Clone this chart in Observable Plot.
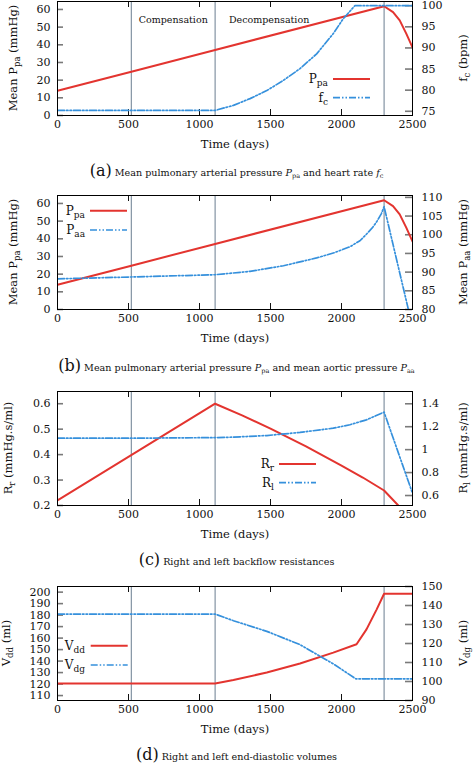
<!DOCTYPE html>
<html><head><meta charset="utf-8">
<script src="https://cdn.jsdelivr.net/npm/d3@7"></script>
<script src="https://cdn.jsdelivr.net/npm/@observablehq/plot@0.6"></script>
<style>
body{margin:0;background:#fff;}
#wrap{position:relative;width:473px;height:765px;overflow:hidden;background:#fff;}
.panel{position:absolute;left:0;}
.cap{position:absolute;left:0;width:473px;height:22px;line-height:22px;text-align:center;font-family:"DejaVu Serif",serif;font-size:9.6px;color:#111;white-space:nowrap;}
.cap .lab{font-size:16px;}
.cap sub{font-size:6.5px;vertical-align:-2px;}
</style></head><body><div id="wrap"></div>
<script>
// ---------- data ----------
const xTicks = [0, 500, 1000, 1500, 2000, 2500];
const phaseDays = [520, 1110, 2300];
const phaseNames = ["Compensation", "Decompensation"];
const phaseNameDays = [815, 1490];

// mean pulmonary arterial pressure (mmHg)
const pPaDays   = [0, 520, 1110, 2300, 2363, 2410, 2457, 2500];
const pPaValues = [14, 24.8, 37.1, 61.8, 58.5, 53.8, 46.2, 38.5];
// heart rate (bpm)
const fcDays   = [0, 1110, 1239, 1356, 1474, 1590, 1708, 1825, 1942, 2012, 2094, 2500];
const fcValues = [75.2, 75.2, 76.4, 78.0, 79.9, 82.3, 85.1, 88.6, 93.4, 96.9, 100, 100];
// mean aortic pressure (mmHg)
const pAaDays   = [0, 520, 1110, 1356, 1591, 1825, 1950, 2060, 2130, 2177, 2220, 2248, 2280, 2300, 2471];
const pAaValues = [88.2, 88.7, 89.3, 90.2, 91.7, 93.8, 95.2, 96.8, 98.4, 100.2, 102, 103.5, 105.6, 107.5, 80];
// right backflow resistance
const rrDays   = [0, 1110, 1300, 1500, 1750, 2000, 2150, 2300, 2400];
const rrValues = [0.22, 0.6, 0.554, 0.502, 0.432, 0.357, 0.31, 0.259, 0.2];
// left backflow resistance
const rlDays   = [0, 520, 1110, 1240, 1474, 1708, 1942, 2059, 2176, 2300, 2500];
const rlValues = [1.1, 1.1, 1.105, 1.109, 1.123, 1.15, 1.187, 1.217, 1.26, 1.327, 0.62];
// right end-diastolic volume (ml)
const vddDays   = [0, 1110, 1239, 1474, 1708, 1942, 2106, 2176, 2247, 2300, 2500];
const vddValues = [120.5, 120.5, 123.5, 130.1, 137.9, 147.4, 154.6, 167.6, 184.8, 198.6, 198.6];
// left end-diastolic volume (ml)
const vdgDays   = [0, 1110, 1239, 1474, 1708, 1942, 2101, 2500];
const vdgValues = [135.5, 135.5, 132, 126.4, 119.4, 109.3, 101.4, 101.4];

// tick labels
const ticksPpa = [0, 10, 20, 30, 40, 50, 60];
const ticksFc = [75, 80, 85, 90, 95, 100];
const ticksPaa = [80, 85, 90, 95, 100, 105, 110];
const ticksRr = [0.2, 0.3, 0.4, 0.5, 0.6];
const ticksRl = [0.6, 0.8, 1, 1.2, 1.4];
const ticksVdd = [110, 120, 130, 140, 150, 160, 170, 180, 190, 200];
const ticksVdg = [90, 100, 110, 120, 130, 140, 150];

// ---------- layout / style ----------
const FONT = "DejaVu Serif, serif";
const RED = "#e3342f", BLUE = "#3590dc";
const DASH = "7,2,1.5,2,1.5,2";
const W = 473, H = 155, ML = 57, MR = 61, MT = 1, MB = 40;
const FW = W - ML - MR, FH = H - MT - MB;

function rich(sel, parts, subSize, shift) {
  let down = false;
  parts.forEach(([s, sub]) => {
    const t = sel.append("tspan").text(s);
    if (sub) { t.attr("font-size", subSize); if (!down) { t.attr("dy", shift); down = true; } }
    else if (down) { t.attr("dy", -shift); down = false; }
  });
}

function panel(cfg) {
  const toLeft = d3.scaleLinear().domain(cfg.rightDomain).range(cfg.leftDomain);
  const rightPos = cfg.rightTicks.map(toLeft);
  const fmt = v => String(+(+v).toFixed(3));
  const marks = [
    Plot.ruleX(phaseDays, {stroke: "#8393a3", strokeWidth: 1.2}),
    Plot.tickY(cfg.leftTicks, {stroke: "#7a7a7a", strokeWidth: 1.6, insetRight: FW - 6}),
    Plot.tickY(rightPos, {stroke: "#7a7a7a", strokeWidth: 1.6, insetLeft: FW - 7}),
    Plot.tickX(xTicks, {stroke: "#111", insetBottom: FH - 6}),
    Plot.tickX(xTicks, {stroke: "#111", insetTop: FH - 6}),
    Plot.axisX(xTicks, {tickSize: 0, tickPadding: 5, label: null, tickFormat: d => String(d), fontSize: 11}),
    Plot.axisY(cfg.leftTicks, {tickSize: 0, tickPadding: 7, label: null, tickFormat: fmt, fontSize: 11}),
    Plot.axisY(rightPos, {anchor: "right", tickSize: 0, tickPadding: 9, label: null, tickFormat: d => fmt(toLeft.invert(d)), fontSize: 11}),
    Plot.line(cfg.redValues, {x: cfg.redDays, y: cfg.redValues, stroke: RED, strokeWidth: 2, clip: true}),
    Plot.line(cfg.blueValues, {x: cfg.blueDays, y: cfg.blueValues.map(toLeft), stroke: BLUE, strokeWidth: 1.7, strokeDasharray: DASH, clip: true}),
    Plot.frame({stroke: "#000", strokeWidth: 1}),
    Plot.text(["Time (days)"], {frameAnchor: "bottom", dy: 29, lineAnchor: "middle", fontSize: 11.5}),
    ...(cfg.extra || [])
  ];
  const plot = Plot.plot({
    width: W, height: H, marginLeft: ML, marginRight: MR, marginTop: MT, marginBottom: MB,
    style: {fontFamily: FONT, fontSize: "11px", color: "#111", background: "white", overflow: "visible"},
    x: {domain: [0, 2500]},
    y: {domain: cfg.leftDomain},
    marks
  });
  const svg = d3.select(plot);
  const g = svg.append("g").attr("font-family", FONT).attr("fill", "#111").style("white-space", "pre");
  const yc = MT + FH / 2;
  const tl = g.append("text").attr("transform", `translate(${cfg.leftLabelX},${yc}) rotate(-90)`)
    .attr("text-anchor", "middle").attr("font-size", 11.5);
  rich(tl, cfg.leftLabel, 8.5, 3);
  const tr = g.append("text").attr("transform", `translate(${cfg.rightLabelX},${yc}) rotate(-90)`)
    .attr("text-anchor", "middle").attr("font-size", 11.5);
  rich(tr, cfg.rightLabel, 8.5, 3);
  const colors = [RED, BLUE];
  cfg.legend.forEach((item, i) => {
    const ly = cfg.legendY[i];
    const ln = g.append("line").attr("x1", cfg.legendX[0]).attr("x2", cfg.legendX[1])
      .attr("y1", ly).attr("y2", ly).attr("stroke", colors[i]).attr("stroke-width", i ? 1.7 : 2);
    if (i) ln.attr("stroke-dasharray", DASH);
    const t = g.append("text").attr("x", cfg.legendTextX).attr("y", ly + 4)
      .attr("text-anchor", "end").attr("font-size", 12);
    rich(t, item, 9, 3);
  });
  const div = document.createElement("div");
  div.className = "panel";
  div.style.top = cfg.top + "px";
  div.appendChild(plot);
  document.getElementById("wrap").appendChild(div);
  const cap = document.createElement("div");
  cap.className = "cap";
  cap.style.top = (cfg.top + cfg.capOffset) + "px";
  cap.innerHTML = cfg.caption;
  document.getElementById("wrap").appendChild(cap);
}

panel({
  top: 0, capOffset: 160,
  leftDomain: [0, 64.5], rightDomain: [74, 101],
  leftTicks: ticksPpa, rightTicks: ticksFc,
  redDays: pPaDays, redValues: pPaValues, blueDays: fcDays, blueValues: fcValues,
  leftLabel: [["Mean P"], ["pa", 1], [" (mmHg)"]], rightLabel: [["f"], ["c", 1], [" (bpm)"]],
  leftLabelX: 17, rightLabelX: 467,
  legend: [[["P"], ["pa", 1]], [["f"], ["c", 1]]],
  legendY: [79, 97.7], legendX: [333, 370], legendTextX: 328,
  extra: [Plot.text(phaseNames, {x: phaseNameDays, text: d => d, frameAnchor: "top", dy: 15, fontSize: 9.5})],
  caption: '<span class="lab">(a)</span> Mean pulmonary arterial pressure <i>P</i><sub>pa</sub> and heart rate <i>f</i><sub>c</sub>'
});
panel({
  top: 194, capOffset: 161,
  leftDomain: [0, 64.5], rightDomain: [80, 110.5],
  leftTicks: ticksPpa, rightTicks: ticksPaa,
  redDays: pPaDays, redValues: pPaValues, blueDays: pAaDays, blueValues: pAaValues,
  leftLabel: [["Mean P"], ["pa", 1], [" (mmHg)"]], rightLabel: [["Mean P"], ["aa", 1], [" (mmHg)"]],
  leftLabelX: 17, rightLabelX: 467,
  legend: [[["P"], ["pa", 1]], [["P"], ["aa", 1]]],
  legendY: [16.7, 36], legendX: [90, 127], legendTextX: 85,
  caption: '<span class="lab">(b)</span> Mean pulmonary arterial pressure <i>P</i><sub>pa</sub> and mean aortic pressure <i>P</i><sub>aa</sub>'
});
panel({
  top: 390, capOffset: 159,
  leftDomain: [0.2, 0.648], rightDomain: [0.513, 1.507],
  leftTicks: ticksRr, rightTicks: ticksRl,
  redDays: rrDays, redValues: rrValues, blueDays: rlDays, blueValues: rlValues,
  leftLabel: [["R"], ["r", 1], [" (mmHg.s/ml)"]], rightLabel: [["R"], ["l", 1], [" (mmHg.s/ml)"]],
  leftLabelX: 12, rightLabelX: 467,
  legend: [[["R"], ["r", 1]], [["R"], ["l", 1]]],
  legendY: [74, 92.7], legendX: [279, 316], legendTextX: 274,
  caption: '<span class="lab">(c)</span> Right and left backflow resistances'
});
panel({
  top: 585, capOffset: 159,
  leftDomain: [105.7, 204.9], rightDomain: [90, 150],
  leftTicks: ticksVdd, rightTicks: ticksVdg,
  redDays: vddDays, redValues: vddValues, blueDays: vdgDays, blueValues: vdgValues,
  leftLabel: [["V"], ["dd", 1], [" (ml)"]], rightLabel: [["V"], ["dg", 1], [" (ml)"]],
  leftLabelX: 10, rightLabelX: 467,
  legend: [[["V"], ["dd", 1]], [["V"], ["dg", 1]]],
  legendY: [60.7, 80], legendX: [90.7, 127.7], legendTextX: 85,
  caption: '<span class="lab">(d)</span> Right and left end-diastolic volumes'
});
</script></body></html>
